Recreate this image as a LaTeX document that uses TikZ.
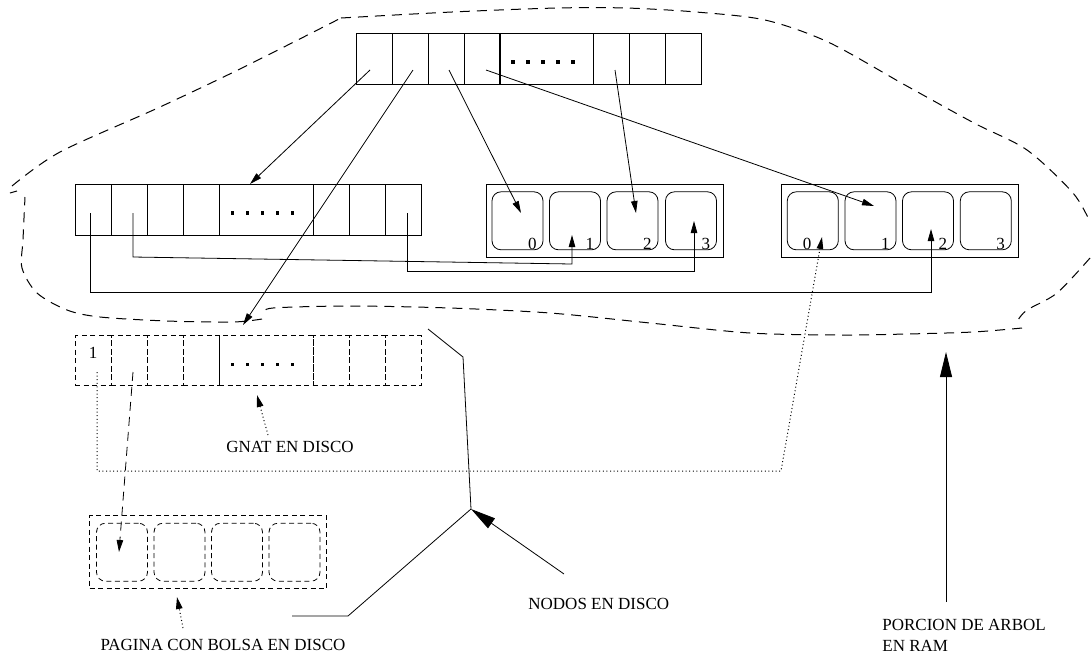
\documentclass[tikz,border=0pt]{standalone}
\usepackage{fontspec}
\setmainfont{Liberation Serif}
\usetikzlibrary{arrows.meta}

\begin{document}
\begin{tikzpicture}[x=1pt,y=-1pt,line width=0.8pt,font=\fontsize{17}{20.5}\selectfont,
  cell/.style={draw,minimum width=36pt,minimum height=51pt,inner sep=0pt},
  dotscell/.style={cell,minimum width=94pt},
  bag/.style={draw,rounded corners=9pt,minimum width=51pt,minimum height=58pt,inner sep=0pt},
  page/.style={draw,minimum width=237pt,minimum height=73pt,inner sep=0pt},
  ondisk/.style={dash pattern=on 5pt off 3.5pt},
  num/.style={anchor=base east,inner sep=0pt},
  arr/.style={-{Triangle[length=12pt,width=6.5pt]}},
  bigarr/.style={-{Triangle[length=25pt,width=12pt]}},
  dotline/.style={line width=1pt,dash pattern=on 1pt off 2.6pt},
  dashline/.style={dash pattern=on 9pt off 6pt},
  ram/.style={line width=1pt,dash pattern=on 10pt off 7pt}]
  \useasboundingbox (0,0) rectangle (1091,657);

  % root GNAT node
  \foreach \n/\x in {1/374,2/410,3/446,4/482,5/611,6/647,7/683}
    \node[cell] (t\n) at (\x,58.5) {};
  \node[dotscell] (tdots) at (546.5,58.5) {};
  % child GNAT node in RAM
  \foreach \n/\x in {1/93,2/129,3/165,4/201,5/331,6/367,7/403}
    \node[cell] (m\n) at (\x,209.5) {};
  \node[dotscell] (mdots) at (266,209.5) {};
  % GNAT node on disk
  \foreach \n/\x in {1/93,2/129,3/165,4/201,5/331,6/367,7/403}
    \node[cell,ondisk,minimum height=50pt] (k\n) at (\x,360.7) {};
  \node[dotscell,ondisk,minimum height=50pt] (kdots) at (266,360.7) {};
  \foreach \c in {tdots,mdots,kdots}
    \foreach \k in {-2,...,2}
      \fill ([xshift=\k*15pt-3.5pt,yshift=-3.5pt]\c.center)
        +(-1.6,-1.6) rectangle +(1.6,1.6);
  \node (one) at (93,353) {1};

  % pages with bags
  \node[page] (ram1) at (604.5,220.5) {};
  \foreach \n/\x in {0/517.5,1/575,2/632.5,3/691}
    \node[bag] (a\n) at (\x,220.8) {};
  \node[page] (ram2) at (899.5,220.8) {};
  \foreach \n/\x in {0/812.8,1/870.5,2/928,3/985.8}
    \node[bag] (b\n) at (\x,220.8) {};
  \node[page,ondisk] (disk) at (208,552) {};
  \foreach \n/\x in {0/122,1/179.5,2/237,3/294.5}
    \node[bag,ondisk] (c\n) at (\x,552.2) {};
  \foreach \n in {0,...,3}
    \node[num] (na\n) at ([xshift=-6.5pt,yshift=1pt]a\n.south east) {\n};
  \foreach \n in {1,2,3}
    \node[num] (nb\n) at ([xshift=-6.5pt,yshift=1pt]b\n.south east) {\n};
  \node[num] (nb0) at ([xshift=-27pt,yshift=1pt]b0.south east) {0};

  % pointers
  \coordinate (s1) at (370,70); \coordinate (s2) at (413,70);
  \coordinate (s3) at (449,70); \coordinate (s4) at (486,70);
  \coordinate (s5) at (615,70);
  \coordinate (e1) at (250,184); \coordinate (e2) at (243,325);
  \coordinate (e3) at (521,213); \coordinate (e4) at (874,206);
  \coordinate (e5) at (636,213);
  \draw[arr] (s1) -- (e1);
  \draw[arr] (s2) -- (e2);
  \draw[arr] (s3) -- (e3);
  \draw[arr] (s4) -- (e4);
  \draw[arr] (s5) -- (e5);
  \coordinate (q1) at (90,213); \coordinate (q2) at (133,213);
  \coordinate (q3) at (407,213);
  \coordinate (r1) at (572,235); \coordinate (r2) at (694,221);
  \coordinate (r3) at (931,229); \coordinate (r4) at (822,237);
  \draw[arr] (q2) -- (133,257) -- (572,264) -- (r1);
  \draw[arr] (q3) -- (407,271) -| (r2);
  \draw[arr] (q1) -- (90,292) -| (r3);
  \coordinate (d1) at (97,372); \coordinate (d2) at (133,372);
  \coordinate (p0) at (119,552);
  \draw[arr,dotline] (d1) -- (97,471) -- (781,471) -- (r4);
  \draw[arr,dashline] (d2) -- (p0);

  % RAM boundary
  \draw[ram] plot[smooth] coordinates {(262,319) (233,322) (167,321) (100,317) (67,310)
    (37,293) (22,268) (23,240) (25,197)};
  \draw[ram] (10,193) -- (17,191);
  \draw[ram] plot[smooth] coordinates {(12,186) (60,152) (160,107) (244,67) (341,18)};
  \draw[ram] plot[smooth] coordinates {(341,18) (452,12) (557,8) (626,8) (696,12)
    (765,20) (828,42) (905,85) (974,123) (1027,150) (1073,193) (1090,222)};
  \draw[ram] plot[smooth] coordinates {(1090,258) (1057,293) (1027,310) (1018,320)};
  \draw[ram] plot[smooth] coordinates {(1022,328) (973,332) (907,334) (840,335) (750,333)
    (650,323) (550,313) (450,308) (350,306) (273,308) (264,313)};

  % labels
  \node (gnat) at (290,447) {GNAT EN DISCO};
  \node (pagina) at (223,645) {PAGINA CON BOLSA EN DISCO};
  \node[anchor=west,inner sep=0pt] (nodos) at (528,604) {NODOS EN DISCO};
  \node[anchor=north west,align=left,inner sep=0pt] (porcion) at (882,619)
    {PORCION DE ARBOL\\EN RAM};
  \coordinate (g1) at (268,435); \coordinate (g2) at (257,395);
  \coordinate (h1) at (183,628); \coordinate (h2) at (177,597);
  \draw[arr,dotline] (g1) -- (g2);
  \draw[arr,dotline] (h1) -- (h2);
  \coordinate (hub) at (471,509);
  \draw (292,616) -- (348,616) -- (hub) -- (463,357) -- (428,329);
  \draw[bigarr] (564,574) -- (hub);
  \draw[bigarr] (946,602) -- (946,352);
\end{tikzpicture}
\end{document}
